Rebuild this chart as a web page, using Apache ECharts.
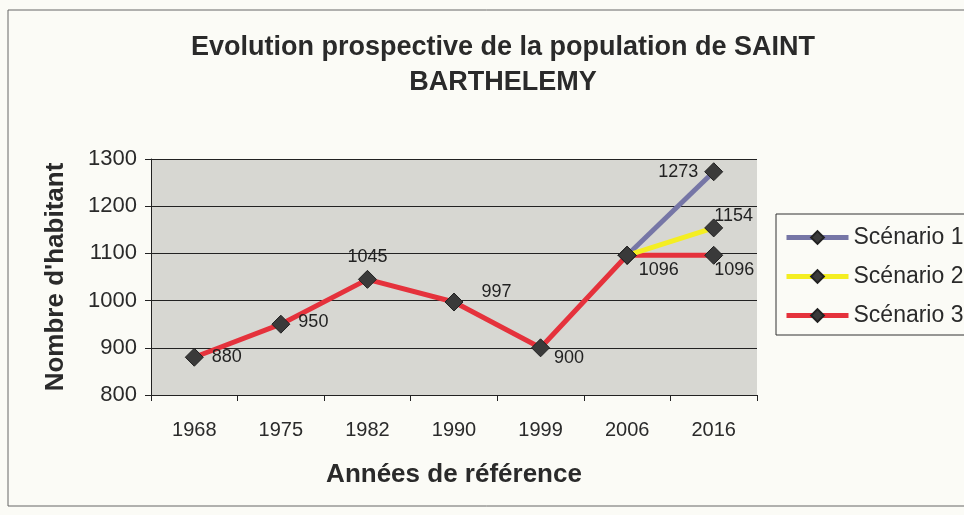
<!DOCTYPE html>
<html>
<head>
<meta charset="utf-8">
<script src="https://cdn.jsdelivr.net/npm/echarts@6/dist/echarts.min.js"></script>
<style>
  html, body { margin: 0; padding: 0; background: #fbfbf6; }
  #chart { width: 964px; height: 515px; }
</style>
</head>
<body>
<div id="chart"></div>
<script>
// données
var annees = ['1968', '1975', '1982', '1990', '1999', '2006', '2016'];
var scenario1 = [null, null, null, null, null, 1096, 1273];
var scenario2 = [null, null, null, null, null, 1096, 1154];
var scenario3 = [880, 950, 1045, 997, 900, 1096, 1096];
var yTicks = [800, 900, 1000, 1100, 1200, 1300];

var font = 'Liberation Sans, Arial, sans-serif';

// position des étiquettes de valeur pour chaque point
var posS3 = [
  { position: 'right', offset: [4, 0] },
  { position: 'right', offset: [4, -2] },
  { position: 'top', offset: [0, 0] },
  { position: 'right', offset: [14, -10] },
  { position: 'right', offset: [0, 10] },
  { position: 'right', offset: [-2, 15] },
  { position: 'right', offset: [-13, 15] }
];

function withLabels(values, pos) {
  return values.map(function (v, i) {
    if (v == null) return null;
    var p = pos[i];
    if (!p) return { value: v, label: { show: false } };
    return { value: v, label: { show: true, position: p.position, offset: p.offset } };
  });
}

var chart = echarts.init(document.getElementById('chart'));

var markerStyle = { color: '#3a3a3a', borderColor: '#222', borderWidth: 1 };
var labelStyle = { color: '#222', fontSize: 18, fontFamily: font, distance: 4 };

chart.setOption({
  backgroundColor: '#fbfbf6',
  animation: false,
  title: {
    text: 'Evolution prospective de la population de SAINT\nBARTHELEMY',
    left: 498,
    top: 25,
    textAlign: 'center',
    textStyle: { fontFamily: font, fontSize: 27, fontWeight: 'bold', color: '#2a2a2a', lineHeight: 35 }
  },
  graphic: [{
    type: 'rect',
    shape: { x: 8, y: 10, width: 970, height: 496 },
    style: { fill: 'none', stroke: '#666', lineWidth: 1 },
    silent: true
  }],
  legend: {
    orient: 'vertical',
    left: 776,
    top: 214,
    padding: [12, 30, 8, 8],
    itemWidth: 62,
    itemHeight: 16,
    itemGap: 16,
    borderColor: '#333',
    borderWidth: 1,
    backgroundColor: '#fbfbf6',
    lineStyle: { width: 5 },
    textStyle: { fontFamily: font, fontSize: 23, color: '#2a2a2a', padding: [2, 0, 0, 0] },
    data: ['Scénario 1', 'Scénario 2', 'Scénario 3']
  },
  grid: { left: 151, top: 159, width: 606, height: 236 },
  xAxis: {
    type: 'category',
    data: annees,
    boundaryGap: true,
    name: 'Années de référence',
    nameLocation: 'middle',
    nameGap: 67,
    nameTextStyle: { fontFamily: font, fontSize: 26, fontWeight: 'bold', color: '#2a2a2a' },
    axisLine: { lineStyle: { color: '#222', width: 1 } },
    axisTick: { show: true, length: 6, lineStyle: { color: '#222' } },
    axisLabel: { fontFamily: font, fontSize: 20, color: '#2a2a2a', margin: 25 }
  },
  yAxis: {
    type: 'value',
    min: yTicks[0],
    max: yTicks[yTicks.length - 1],
    interval: 100,
    name: "Nombre d'habitant",
    nameLocation: 'middle',
    nameGap: 82,
    nameTextStyle: { fontFamily: font, fontSize: 26, fontWeight: 'bold', color: '#2a2a2a' },
    axisLine: { show: true, lineStyle: { color: '#222', width: 1 } },
    axisTick: { show: true, length: 6, lineStyle: { color: '#222' } },
    axisLabel: {
      fontFamily: font, fontSize: 22, color: '#2a2a2a', margin: 14,
      formatter: function (v) { return String(v); }
    },
    splitLine: { show: true, lineStyle: { color: '#222', width: 1 } },
    splitArea: { show: true, areaStyle: { color: ['#d7d7d2', '#d7d7d2'] } }
  },
  series: [
    {
      name: 'Scénario 1',
      type: 'line',
      data: withLabels(scenario1, { 6: { position: 'left', offset: [-2, 0] } }),
      symbol: 'diamond',
      symbolSize: 18,
      lineStyle: { color: '#7676a6', width: 5 },
      itemStyle: markerStyle,
      color: '#7676a6',
      label: labelStyle,
      z: 3
    },
    {
      name: 'Scénario 2',
      type: 'line',
      data: withLabels(scenario2, { 6: { position: 'right', offset: [-13, -12] } }),
      symbol: 'diamond',
      symbolSize: 18,
      lineStyle: { color: '#f4ee22', width: 5 },
      itemStyle: markerStyle,
      color: '#f4ee22',
      label: labelStyle,
      z: 3
    },
    {
      name: 'Scénario 3',
      type: 'line',
      data: withLabels(scenario3, posS3),
      symbol: 'diamond',
      symbolSize: 18,
      lineStyle: { color: '#e5323c', width: 5 },
      itemStyle: markerStyle,
      color: '#e5323c',
      label: labelStyle,
      z: 2
    }
  ]
});
</script>
</body>
</html>
